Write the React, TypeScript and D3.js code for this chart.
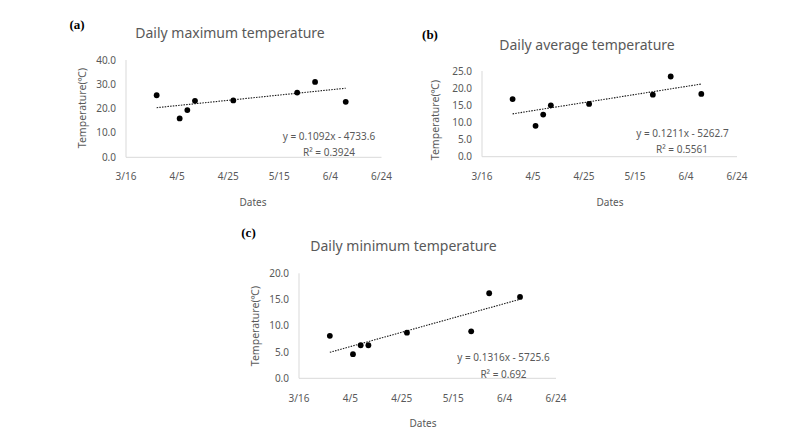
import React from "react";
import * as d3 from "d3";

// ---- data ----
const dates = ["2019-03-28", "2019-04-06", "2019-04-09", "2019-04-12", "2019-04-27", "2019-05-22", "2019-05-29", "2019-06-10"];
const maxTemp = [25.5, 16.0, 19.4, 23.2, 23.4, 26.6, 31.0, 22.8];
const avgTemp = [16.8, 9.0, 12.3, 15.0, 15.4, 18.1, 23.4, 18.3];
const minTemp = [8.1, 4.6, 6.3, 6.3, 8.7, 8.95, 16.2, 15.5];
// trendline values at first and last date
const trendMax = [20.4, 28.4];
const trendAvg = [12.5, 21.2];
const trendMin = [4.95, 15.05];
const xTickDates = ["2019-03-16", "2019-04-05", "2019-04-25", "2019-05-15", "2019-06-04", "2019-06-24"];
const xTickLabels = ["3/16", "4/5", "4/25", "5/15", "6/4", "6/24"];
const titles = ["Daily maximum temperature", "Daily average temperature", "Daily minimum temperature"];
const panelLabels = ["(a)", "(b)", "(c)"];
const equations = ["y = 0.1092x - 4733.6", "y = 0.1211x - 5262.7", "y = 0.1316x - 5725.6"];
const r2Labels = ["R² = 0.3924", "R² = 0.5561", "R² = 0.692"];
const yMaxes = [40, 25, 20];
const ySteps = [10, 5, 5];

const parse = d3.timeParse("%Y-%m-%d");
const GRAY = "#595959";
const AXIS = "#d9d9d9";
const FONT = "'Noto Sans', 'Open Sans', sans-serif";

type Layout = {
  x0: number; x1: number; yTop: number; yBot: number;
  label: [number, number]; title: [number, number];
  yTitle: [number, number]; eq: [number, number]; r2: [number, number];
  tickY: number; dates: [number, number];
};

const layouts: Layout[] = [
  { x0: 126, x1: 381.5, yTop: 60, yBot: 157.3, label: [77, 29], title: [230, 38], yTitle: [81.5, 108], eq: [329, 139.5], r2: [329, 156], tickY: 179.5, dates: [253, 205.5] },
  { x0: 482, x1: 737, yTop: 71, yBot: 156.7, label: [430, 39], title: [587, 50], yTitle: [435, 120], eq: [682.5, 137], r2: [682, 153], tickY: 179.5, dates: [610, 205.5] },
  { x0: 299, x1: 556, yTop: 273.3, yBot: 378.3, label: [248.5, 237], title: [403.5, 251], yTitle: [255, 326], eq: [503.5, 361], r2: [503.5, 377.5], tickY: 402, dates: [423, 426.5] },
];

const series = [maxTemp, avgTemp, minTemp];
const trends = [trendMax, trendAvg, trendMin];

function Panel({ i }: { i: number }) {
  const L = layouts[i];
  const x = d3.scaleTime()
    .domain([parse(xTickDates[0])!, parse(xTickDates[xTickDates.length - 1])!])
    .range([L.x0, L.x1]);
  const y = d3.scaleLinear().domain([0, yMaxes[i]]).range([L.yBot, L.yTop]);
  const yTicks = d3.range(0, yMaxes[i] + 0.001, ySteps[i]);
  const vals = series[i];
  const tr = trends[i];
  const first = parse(dates[0])!;
  const last = parse(dates[dates.length - 1])!;
  return (
    <g>
      <text x={L.label[0]} y={L.label[1]} textAnchor="middle" fontFamily="'Liberation Serif', serif" fontWeight="bold" fontSize={13} fill="#000">{panelLabels[i]}</text>
      <text x={L.title[0]} y={L.title[1]} textAnchor="middle" fontFamily={FONT} fontSize={14} fill={GRAY}>{titles[i]}</text>
      <line x1={L.x0} x2={L.x0} y1={L.yTop} y2={L.yBot} stroke={AXIS} strokeWidth={1} />
      <line x1={L.x0} x2={L.x1} y1={L.yBot} y2={L.yBot} stroke={AXIS} strokeWidth={1} />
      {yTicks.map((t) => (
        <text key={t} x={L.x0 - 10} y={y(t) + 3.5} textAnchor="end" fontFamily={FONT} fontSize={10} fill={GRAY}>{t.toFixed(1)}</text>
      ))}
      {xTickDates.map((d, k) => (
        <text key={d} x={x(parse(d)!)} y={L.tickY} textAnchor="middle" fontFamily={FONT} fontSize={10} fill={GRAY}>{xTickLabels[k]}</text>
      ))}
      <text x={L.dates[0]} y={L.dates[1]} textAnchor="middle" fontFamily={FONT} fontSize={10} fill={GRAY}>Dates</text>
      <text transform={`translate(${L.yTitle[0]},${L.yTitle[1]}) rotate(-90)`} textAnchor="middle" dominantBaseline="central" fontFamily={FONT} fontSize={10.5} fill={GRAY}>Temperature(℃)</text>
      <line x1={x(first)} x2={x(last)} y1={y(tr[0])} y2={y(tr[1])} stroke="#1a1a1a" strokeWidth={1.1} strokeDasharray="1.5 1.2" />
      {vals.map((v, k) => (
        <circle key={k} cx={x(parse(dates[k])!)} cy={y(v)} r={2.9} fill="#000" />
      ))}
      <text x={L.eq[0]} y={L.eq[1]} textAnchor="middle" fontFamily={FONT} fontSize={10} fill={GRAY}>{equations[i]}</text>
      <text x={L.r2[0]} y={L.r2[1]} textAnchor="middle" fontFamily={FONT} fontSize={10} fill={GRAY}>{r2Labels[i]}</text>
    </g>
  );
}

export default function App() {
  return (
    <svg width={800} height={435} style={{ position: "absolute", left: 0, top: 0, background: "#fff" }}>
      <rect width={800} height={435} fill="#fff" />
      {[0, 1, 2].map((i) => <Panel key={i} i={i} />)}
    </svg>
  );
}
